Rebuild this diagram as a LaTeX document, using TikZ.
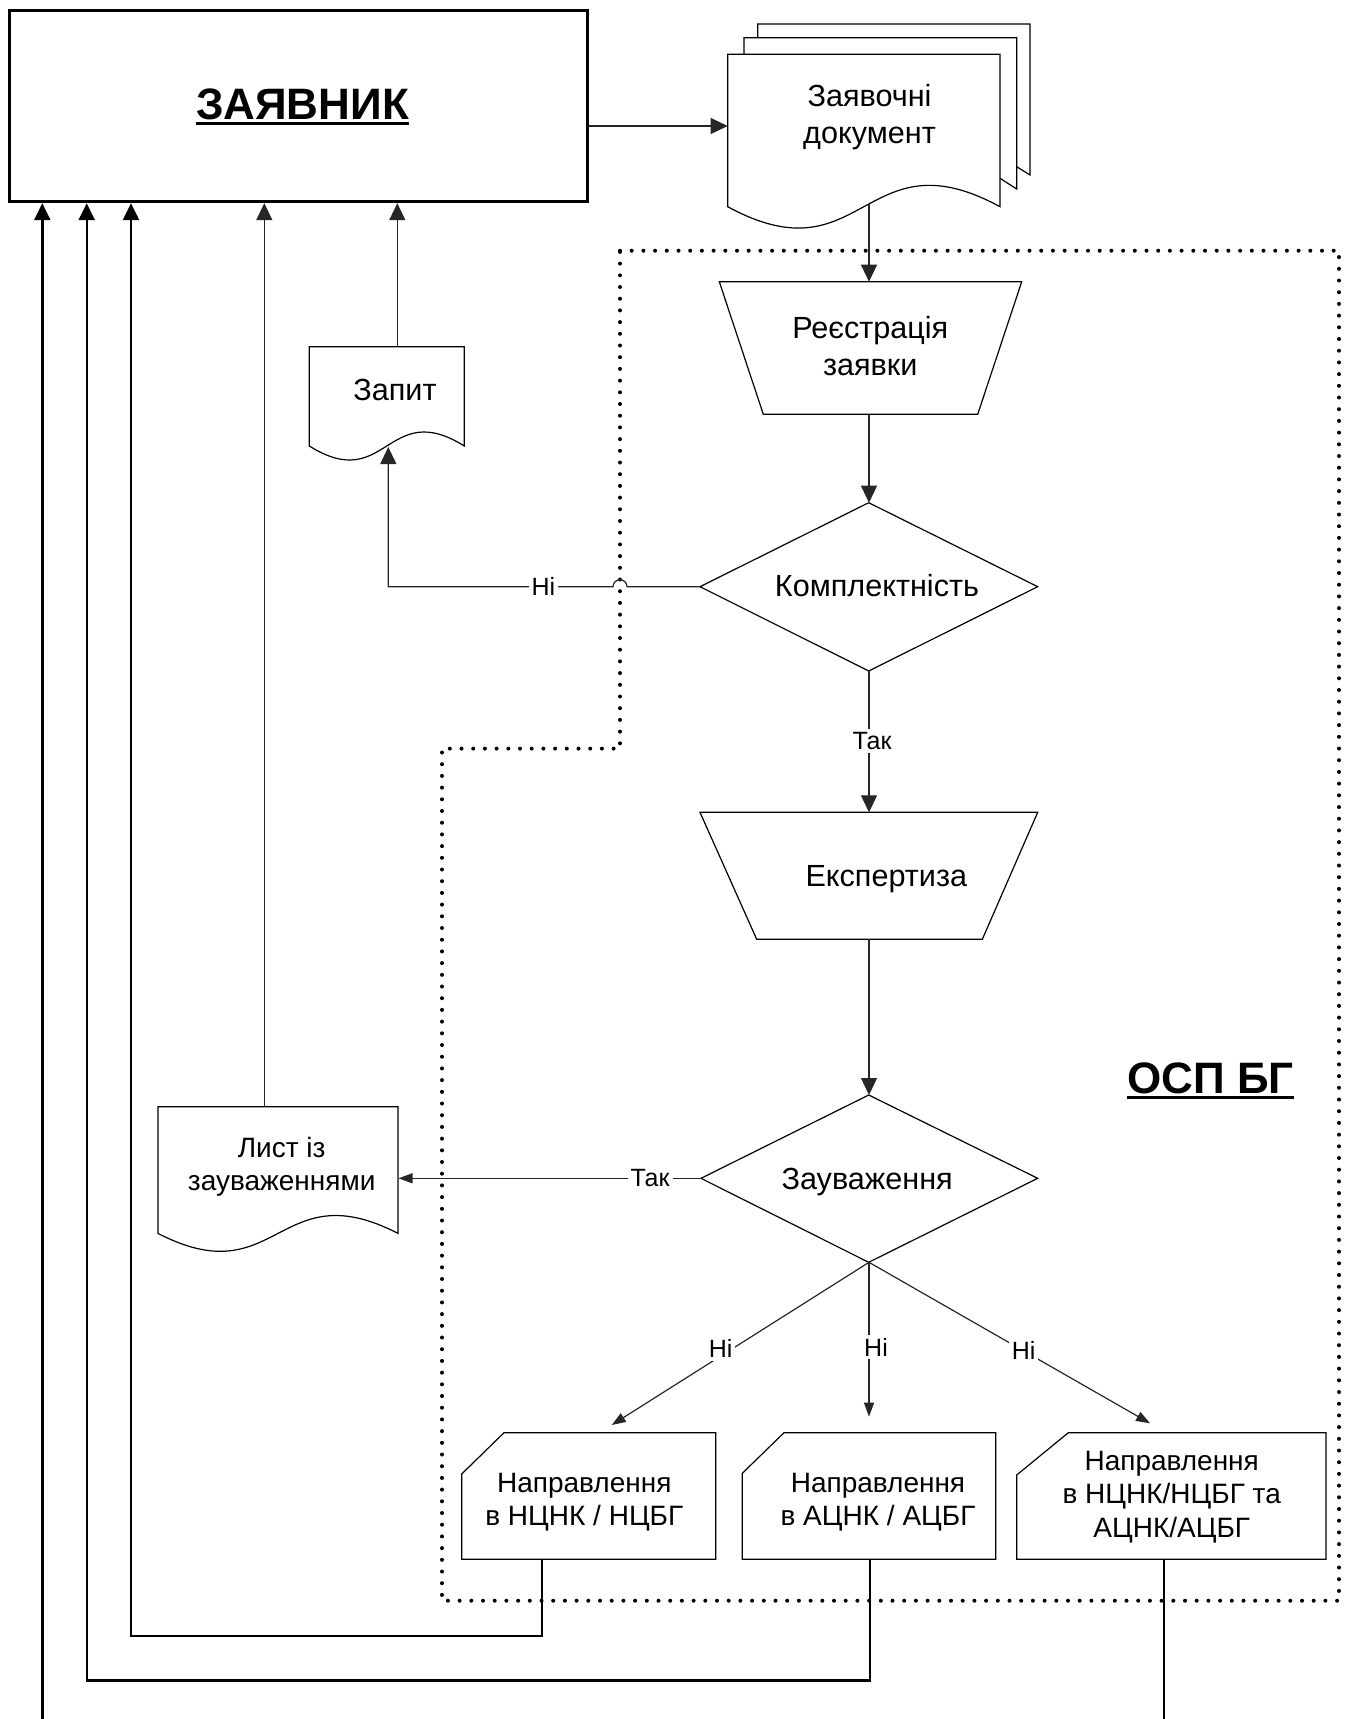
\documentclass[tikz,border=0pt]{standalone}
\usepackage{fontspec}
\setmainfont{Liberation Sans}
\usetikzlibrary{arrows.meta}
\newcommand\ultext[1]{\setbox0=\hbox{#1}\rlap{\copy0}\rule[-3pt]{\wd0}{1.7pt}}
\begin{document}
\begin{tikzpicture}[x=0.5pt,y=-0.5pt,
  shp/.style={draw=black, line width=0.6pt, fill=white},
  conn/.style={draw=black!85, line width=0.6pt},
  fb/.style={draw=black, line width=1.2pt},
  big/.style={-{Triangle[length=8.5pt,width=8pt]}},
  small/.style={-{Triangle[length=7pt,width=5pt]}},
  lbl/.style={fill=white, inner sep=1.5pt, font=\fontsize{12.5}{14}\selectfont},
  txt/.style={inner sep=0pt, align=center, font=\fontsize{15.3}{18.5}\selectfont},
  ntxt/.style={inner sep=0pt, align=center, font=\fontsize{14}{16.8}\selectfont},
  ttl/.style={inner sep=0pt, font=\bfseries\fontsize{22}{26}\selectfont},
  dots/.style={line width=2pt, line cap=round, dash pattern=on 0pt off 5.85pt}]
\clip (0,0) rectangle (1346,1719);
% dotted region
\draw[dots] (620,250.7) -- (1339,250.7) -- (1339,1600.7) -- (442,1600.7) -- (442,748.6) -- (620,748.6) -- cycle;
% applicant
\draw[line width=1.5pt] (9,10) rectangle (587,201.7);
\node[ttl, anchor=base] (zayavnyk) at (302.5,119) {\ultext{ЗАЯВНИК}};
% document stack
\draw[shp] (757.7,24) -- (1030,24) -- (1030,175) -- (1016.7,166.7) -- (757.7,166.7) -- cycle;
\draw[shp] (744,37.7) -- (1016.7,37.7) -- (1016.7,189) -- (1000,178.3) -- (744,178.3) -- cycle;
\draw[shp] (727.7,206.7) -- (727.7,54.3) -- (1000,54.3) -- (1000,206.7) .. controls (863.85,132.7) and (863.85,280.7) .. (727.7,206.7) -- cycle;
\node[txt] (docs) at (869.5,116.8) {Заявочні\\документ};
% registration
\draw[shp] (719.3,281.7) -- (1021.7,281.7) -- (977.7,414.3) -- (763.3,414.3) -- cycle;
\node[txt] (reg) at (870.3,346.5) {Реєстрація\\заявки};
% completeness
\draw[shp] (868.7,502.7) -- (1037.7,586.7) -- (868.7,671) -- (700,586.7) -- cycle;
\node[txt, anchor=base] (kompl) at (877,596.7) {Комплектність};
% expertise
\draw[shp] (700,812.3) -- (1037.7,812.3) -- (982.3,939.3) -- (756.7,939.3) -- cycle;
\node[txt, anchor=base] (exper) at (886.3,886.7) {Експертиза};
% remarks
\draw[shp] (868.7,1095) -- (1037.7,1178.3) -- (868.7,1262.3) -- (701,1178.3) -- cycle;
\node[txt, anchor=base] (zauv) at (867.2,1189.3) {Зауваження};
% request
\draw[shp] (309.3,446) -- (309.3,346.7) -- (464.3,346.7) -- (464.3,446) .. controls (386.8,397.5) and (386.8,494.5) .. (309.3,446) -- cycle;
\node[txt, anchor=base] (zapyt) at (395,400) {Запит};
% letter
\draw[shp] (158,1233.4) -- (158,1106.7) -- (398,1106.7) -- (398,1233.4) .. controls (278,1171.4) and (278,1295.4) .. (158,1233.4) -- cycle;
\node[ntxt] (lyst) at (281.7,1166.8) {Лист із\\зауваженнями};
% direction boxes
\draw[shp] (461.7,1474) -- (504,1432.7) -- (715.7,1432.7) -- (715.7,1559.3) -- (461.7,1559.3) -- cycle;
\node[ntxt] (box1) at (584.3,1502) {Направлення\\в НЦНК / НЦБГ};
\draw[shp] (742.3,1473.3) -- (784,1432.7) -- (995.7,1432.7) -- (995.7,1559.3) -- (742.3,1559.3) -- cycle;
\node[ntxt] (box2) at (878,1502) {Направлення\\в АЦНК / АЦБГ};
\draw[shp] (1016.7,1475) -- (1068.3,1432.7) -- (1326,1432.7) -- (1326,1559.3) -- (1016.7,1559.3) -- cycle;
\node[ntxt] (box3) at (1171.7,1497) {Направлення\\в НЦНК/НЦБГ та\\АЦНК/АЦБГ};
% OSP label
\node[ttl, anchor=base] (osp) at (1210.5,1093.3) {\ultext{ОСП БГ}};
% anchor coordinates
\coordinate (zE) at (588.5,126);
\coordinate (docW) at (727.7,126);
\coordinate (docS) at (869,204);
\coordinate (regN) at (869,281.7);
\coordinate (regS) at (869,414.3);
\coordinate (komN) at (869,502.7);
\coordinate (komW) at (700,586.7);
\coordinate (jumpE) at (627,586.7);
\coordinate (zapS) at (388.3,447);
\coordinate (zapN) at (397.3,346.7);
\coordinate (komS) at (869,671);
\coordinate (expN) at (869,812.3);
\coordinate (expS) at (869,939.3);
\coordinate (zauN) at (869,1095);
\coordinate (zauW) at (701,1178.3);
\coordinate (lystE) at (398.5,1178.3);
\coordinate (lystN) at (264.3,1106.7);
\coordinate (zauS) at (869,1262.3);
\coordinate (t1) at (611.7,1425);
\coordinate (t2) at (869,1416.7);
\coordinate (t3) at (1150,1423.3);
\coordinate (b1S) at (541.7,1559.3);
\coordinate (b2S) at (870,1559.3);
\coordinate (b3S) at (1163.7,1559.3);
\coordinate (c1) at (131,1635.7);
\coordinate (c2) at (86.7,1680.3);
\coordinate (c3) at (42.3,1760);
\coordinate (zin1) at (42.3,203.2);
\coordinate (zin2) at (86.7,203.2);
\coordinate (zin3) at (131,203.2);
\coordinate (zin4) at (264.3,203.2);
\coordinate (zin5) at (397.3,203.2);
% connectors
\draw[conn,big] (zE) -- (docW);
\draw[conn,big] (docS) -- (regN);
\draw[conn,big] (regS) -- (komN);
\draw[conn,big] (komW) -- (jumpE) arc[start angle=0,end angle=-180,radius=7] -- (zapS |- komW) -- (zapS);
\node[lbl] (ni0) at (543.3,586.7) {Ні};
\draw[conn,big] (zapN) -- (zin5);
\draw[conn,big] (komS) -- (expN);
\node[lbl] (tak1) at (872,741) {Так};
\draw[conn,big] (expS) -- (zauN);
\draw[conn,small] (zauW) -- (lystE);
\node[lbl] (tak2) at (650,1178.3) {Так};
\draw[conn,big] (lystN) -- (zin4);
\draw[conn,small] (zauS) -- (t1) node[lbl,pos=0.53,xshift=-6pt] (ni1) {Ні};
\draw[conn,small] (zauS) -- (t2) node[lbl,pos=0.55,xshift=3.5pt] (ni2) {Ні};
\draw[conn,small] (zauS) -- (t3) node[lbl,pos=0.55] (ni3) {Ні};
\draw[fb,big] (b1S) |- (c1) -- (zin3);
\draw[fb,big] (b2S) |- (c2) -- (zin2);
\draw[fb,big] (b3S) |- (c3) -- (zin1);
\end{tikzpicture}
\end{document}
